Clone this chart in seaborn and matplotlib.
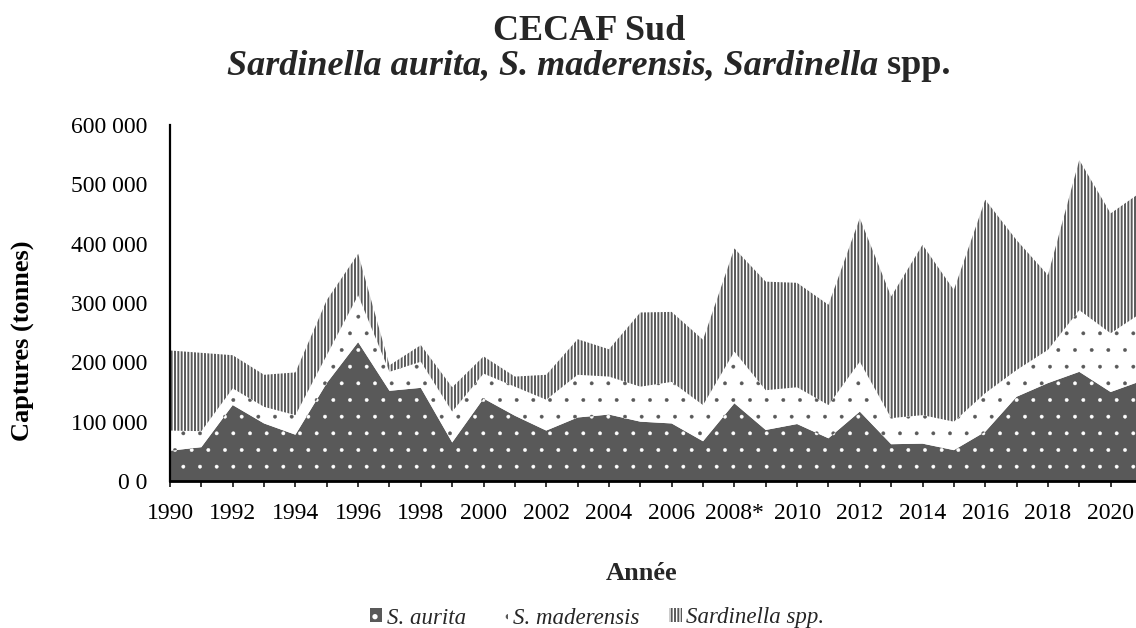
import numpy as np
import pandas as pd
import matplotlib
matplotlib.use("Agg")
import matplotlib.pyplot as plt
import matplotlib.patches as mpatches
import seaborn as sns

# catches in thousand tonnes
years = list(range(1990, 2022))
aurita = [51, 57, 128, 97, 78, 165, 234, 152, 157, 65, 139, 110, 85, 107, 112, 100,
          97, 67, 131, 86, 96, 72, 117, 62, 63, 52, 83, 142, 165, 184, 150, 169]
maderensis = [34, 27, 28, 28, 33, 47, 79, 32, 44, 52, 42, 49, 52, 72, 64, 59,
              70, 61, 87, 67, 62, 56, 84, 44, 48, 48, 65, 45, 56, 104, 99, 115]
spp = [135, 132, 56, 54, 72, 93, 70, 11, 28, 41, 29, 17, 42, 60, 46, 125,
       118, 110, 174, 183, 176, 169, 242, 205, 287, 222, 326, 219, 126, 253, 202, 204]

series_names = ["S. aurita", "S. maderensis", "Sardinella spp."]
x_tick_years = list(range(1990, 2021, 2))
x_tick_labels = ["1990", "1992", "1994", "1996", "1998", "2000", "2002", "2004",
                 "2006", "2008*", "2010", "2012", "2014", "2016", "2018", "2020"]
y_ticks = [0, 100000, 200000, 300000, 400000, 500000, 600000]
y_tick_labels = ["0 0", "100 000", "200 000", "300 000", "400 000", "500 000", "600 000"]

df = pd.DataFrame({"year": years,
                   series_names[0]: np.array(aurita) * 1000,
                   series_names[1]: np.array(maderensis) * 1000,
                   series_names[2]: np.array(spp) * 1000})

sns.set_theme(style="ticks")
plt.rcParams["font.family"] = ["Liberation Serif", "DejaVu Serif"]
plt.rcParams["hatch.linewidth"] = 1.4

W, H = 1136, 628
fig = plt.figure(figsize=(W / 100, H / 100), dpi=100)
ax = fig.add_axes([170 / W, 1 - 481 / H, (1142 - 170) / W, (481 - 125) / H])

dark = "#595959"
styles = [
    dict(facecolor=dark, edgecolor="white", hatch=".", hlw=0.3),
    dict(facecolor="white", edgecolor=dark, hatch=".", hlw=0.3),
    dict(facecolor="white", edgecolor=dark, hatch="|||||", hlw=1.4),
]

base = np.zeros(len(df))
handles = []
for name, st in zip(series_names, styles):
    top = base + df[name].values
    with plt.rc_context({"hatch.linewidth": st["hlw"]}):
        ax.fill_between(df["year"], base, top, facecolor=st["facecolor"],
                        edgecolor=st["edgecolor"], hatch=st["hatch"], linewidth=0)
        handles.append(mpatches.Patch(facecolor=st["facecolor"], edgecolor=st["edgecolor"],
                                      hatch=st["hatch"], linewidth=0, label=name))
    base = top

ax.set_xlim(1990, 2021)
ax.set_ylim(0, 600000)
ax.set_xticks(x_tick_years)
ax.set_xticklabels(x_tick_labels)
ax.set_xticks(years, minor=True)
ax.set_yticks(y_ticks)
ax.set_yticklabels(y_tick_labels)
ax.tick_params(axis="x", which="both", direction="out", length=4.5, width=1.1,
               color="black", pad=11, labelsize=17, labelcolor="black")
ax.tick_params(axis="y", length=0, pad=16.5, labelsize=17, labelcolor="black")
sns.despine(ax=ax)
ax.spines["left"].set_linewidth(1.6)
ax.spines["bottom"].set_linewidth(2.0)
for s in ["left", "bottom"]:
    ax.spines[s].set_color("black")
ax.grid(False)

ax.set_ylabel("Captures (tonnes)", fontsize=19, fontweight="bold", color="black")
ax.yaxis.set_label_coords(35 / W, 1 - 341 / H, transform=fig.transFigure)
fig.text(642 / W, 1 - 580 / H, "Année", ha="center", va="baseline",
         fontsize=19, fontweight="bold")

# title, second line mixes italic and upright
fig.text(589 / W, 1 - 40 / H, "CECAF Sud", ha="center", va="baseline",
         fontsize=26, fontweight="bold")
t1 = fig.text(0, 1 - 74 / H, "Sardinella aurita, S. maderensis, Sardinella",
              ha="left", va="baseline", fontsize=26, fontweight="bold", style="italic")
t2 = fig.text(0, 1 - 74 / H, " spp.", ha="left", va="baseline",
              fontsize=26, fontweight="bold")
r = fig.canvas.get_renderer()
w1 = t1.get_window_extent(r).width
w2 = t2.get_window_extent(r).width
x0 = 589 - (w1 + w2) / 2
t1.set_x(x0 / W)
t2.set_x((x0 + w1) / W)

leg = fig.legend(handles=handles, loc="center", bbox_to_anchor=(597 / W, 1 - 618 / H),
                 ncol=3, frameon=False, prop={"style": "italic", "size": 16.5},
                 handlelength=0.55, handleheight=0.55, handletextpad=0.2,
                 columnspacing=1.3, borderaxespad=0, borderpad=0)

fig.savefig("out.png", dpi=100)
